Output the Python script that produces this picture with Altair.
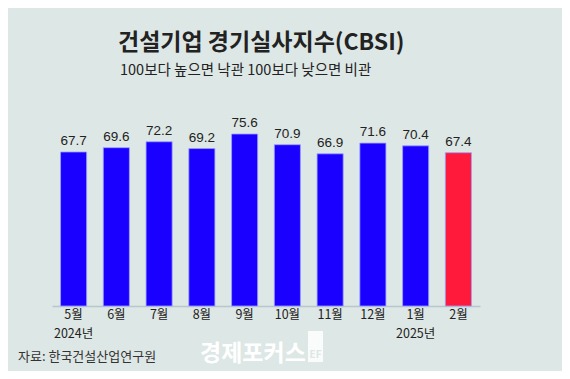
import altair as alt
import pandas as pd

months = ["5월", "6월", "7월", "8월", "9월", "10월", "11월", "12월", "1월", "2월"]
years = ["2024년", "", "", "", "", "", "", "", "2025년", ""]
values = [67.7, 69.6, 72.2, 69.2, 75.6, 70.9, 66.9, 71.6, 70.4, 67.4]
highlight = [False] * 9 + [True]

title_text = "건설기업 경기실사지수(CBSI)"
subtitle_text = "100보다 높으면 낙관 100보다 낮으면 비관"
source_text = "자료: 한국건설산업연구원"
watermark_text = "경제포커스"

df = pd.DataFrame({"month": months, "year": years, "value": values, "hl": highlight})

FONT = "Noto Sans CJK KR"
BG = "#dde7e5"

xenc = alt.X("month:N", sort=months, title=None,
             scale=alt.Scale(paddingInner=0.39, paddingOuter=0.2),
             axis=alt.Axis(labelAngle=0, ticks=False, domainColor="#b9c6cc",
                           domainWidth=1.5, labelFont=FONT, labelFontSize=12.5,
                           labelColor="#222222", labelPadding=2, grid=False))

base = alt.Chart(df)

bars = base.mark_bar(stroke="#9aa0ff", strokeWidth=0.8).encode(
    x=xenc,
    y=alt.Y("value:Q", scale=alt.Scale(domain=[0, 80]), axis=None),
    color=alt.Color("hl:N", scale=alt.Scale(domain=[False, True], range=["#1a00ff", "#ff1a3c"]), legend=None),
)

labels = base.mark_text(dy=-4, baseline="bottom", font="Liberation Sans", fontSize=13.5, color="#222222").encode(
    x=alt.X("month:N", sort=months),
    y=alt.Y("value:Q"),
    text=alt.Text("value:Q", format=".1f"),
)

year_labels = base.mark_text(baseline="alphabetic", font=FONT, fontSize=12.5, color="#222222").encode(
    x=alt.X("month:N", sort=months),
    y=alt.value(214),
    text="year:N",
)

def txt(s, x, y, size, weight="normal", color="#222222", align="left"):
    return alt.Chart(pd.DataFrame({"t": [s]})).mark_text(
        align=align, baseline="alphabetic", font=FONT, fontSize=size,
        fontWeight=weight, color=color,
    ).encode(text="t:N", x=alt.value(x), y=alt.value(y))

title = txt(title_text, 66, -74, 23, "bold", "#222222")
subtitle = txt(subtitle_text, 68, -49, 14.5, "normal", "#222222")
source = txt(source_text, -34, 237, 13, "normal", "#333333")
watermark = txt(watermark_text, 148, 237, 23, "bold", "#ffffff")

logo = alt.Chart(pd.DataFrame({"t": ["EF"]})).mark_rect(color="#ffffff", opacity=0.85).encode(
    x=alt.value(256), x2=alt.value(271), y=alt.value(207), y2=alt.value(238)
)
logo_txt = alt.Chart(pd.DataFrame({"t": ["EF"]})).mark_text(
    font=FONT, fontSize=10, fontWeight="bold", color=BG, baseline="alphabetic", align="center"
).encode(text="t:N", x=alt.value(263.5), y=alt.value(234))

chart = alt.layer(bars, labels, year_labels, title, subtitle, source, watermark, logo, logo_txt).properties(
    width=428, height=182,
    autosize=alt.AutoSizeParams(type="none"),
    padding={"left": 44, "top": 116, "right": 82, "bottom": 65},
    background=BG,
).configure_view(stroke=None)

chart.save("out.html", embed_options={"renderer": "svg", "actions": False})
